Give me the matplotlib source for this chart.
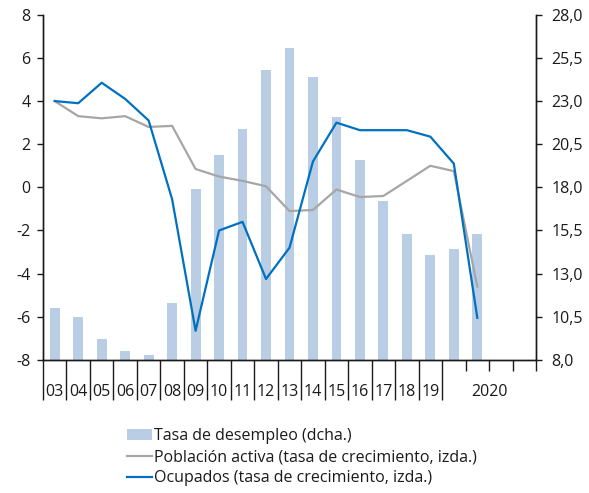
import numpy as np
import matplotlib
matplotlib.use('Agg')
import matplotlib.pyplot as plt
from matplotlib.transforms import blended_transform_factory

plt.rcParams['font.family'] = ['Open Sans', 'DejaVu Sans']
plt.rcParams['axes.unicode_minus'] = False

# Datos
anios = ['03', '04', '05', '06', '07', '08', '09', '10', '11', '12',
         '13', '14', '15', '16', '17', '18', '19']
etiqueta_2020 = '2020'
trimestres_2020 = 4

desempleo = [11.0, 10.5, 9.2, 8.5, 8.3, 11.3, 17.9, 19.9, 21.4, 24.8,
             26.1, 24.4, 22.1, 19.6, 17.2, 15.3, 14.1, 14.4, 15.3]
activa = [4.0, 3.3, 3.2, 3.3, 2.8, 2.85, 0.85, 0.5, 0.3, 0.05,
          -1.1, -1.05, -0.1, -0.45, -0.4, 0.3, 1.0, 0.75, -4.6]
ocupados = [4.0, 3.9, 4.85, 4.1, 3.1, -0.55, -6.65, -2.0, -1.6, -4.25,
            -2.8, 1.2, 3.0, 2.65, 2.65, 2.65, 2.35, 1.1, -6.05]

n_slots = len(anios) + trimestres_2020
x = np.arange(len(desempleo)) + 0.5

color_texto = '#1a1a1a'
fs = 11.5
fig = plt.figure(figsize=(5.89, 4.93), dpi=100)
ax = fig.add_axes([0.073, 0.270, 0.837, 0.700])
ax2 = ax.twinx()

barras = ax2.bar(x, desempleo, width=0.42, color='#B9CDE5', label='Tasa de desempleo (dcha.)', zorder=1)
l1, = ax.plot(x, activa, color='#A6A6A6', lw=1.6, label='Población activa (tasa de crecimiento, izda.)')
l2, = ax.plot(x, ocupados, color='#0070C0', lw=1.6, label='Ocupados (tasa de crecimiento, izda.)')

ax.set_zorder(ax2.get_zorder() + 1)
ax.patch.set_visible(False)

ax.set_xlim(0, n_slots)
ax.set_ylim(-8, 8)
ax2.set_ylim(8, 28)

ax.set_yticks(np.arange(-8, 9, 2))
ax.set_yticklabels([str(v) for v in range(-8, 9, 2)])
ax2.set_yticks(np.arange(8, 28.1, 2.5))
ax2.set_yticklabels([f'{v:.1f}'.replace('.', ',') for v in np.arange(8, 28.1, 2.5)])

for a in (ax, ax2):
    a.spines['top'].set_visible(False)
    for s in a.spines.values():
        s.set_color(color_texto)
        s.set_linewidth(1.0)

ax.tick_params(axis='y', direction='out', length=4, width=1, colors=color_texto,
               labelsize=fs, pad=5)
ax2.tick_params(axis='y', direction='out', length=4, width=1, colors=color_texto,
                labelsize=fs, pad=7)

# marcas del eje x: largas para los años, cortas para los trimestres de 2020
ax.set_xticks(np.arange(0, len(anios) + 1))
ax.set_xticks(np.arange(len(anios) + 1, n_slots + 1), minor=True)
ax.tick_params(axis='x', which='major', direction='out', length=29, width=1,
               color=color_texto, labelbottom=False)
ax.tick_params(axis='x', which='minor', direction='out', length=8, width=1,
               color=color_texto, labelbottom=False)
ax2.tick_params(axis='x', which='both', bottom=False, labelbottom=False)

trans = blended_transform_factory(ax.transData, ax.transAxes)
for i, a in enumerate(anios):
    ax.text(i + 0.5, -0.092, a, transform=trans, ha='center', va='center',
            fontsize=fs, color=color_texto)
ax.text(len(anios) + trimestres_2020 / 2, -0.092, etiqueta_2020, transform=trans,
        ha='center', va='center', fontsize=fs, color=color_texto)

fig.legend(handles=[barras, l1, l2], loc='upper left', bbox_to_anchor=(0.216, 0.132),
           frameon=False, fontsize=fs, handlelength=1.55, handletextpad=0.15,
           labelspacing=0.33, borderpad=0, borderaxespad=0, labelcolor=color_texto)

fig.savefig('out.png', dpi=100)
